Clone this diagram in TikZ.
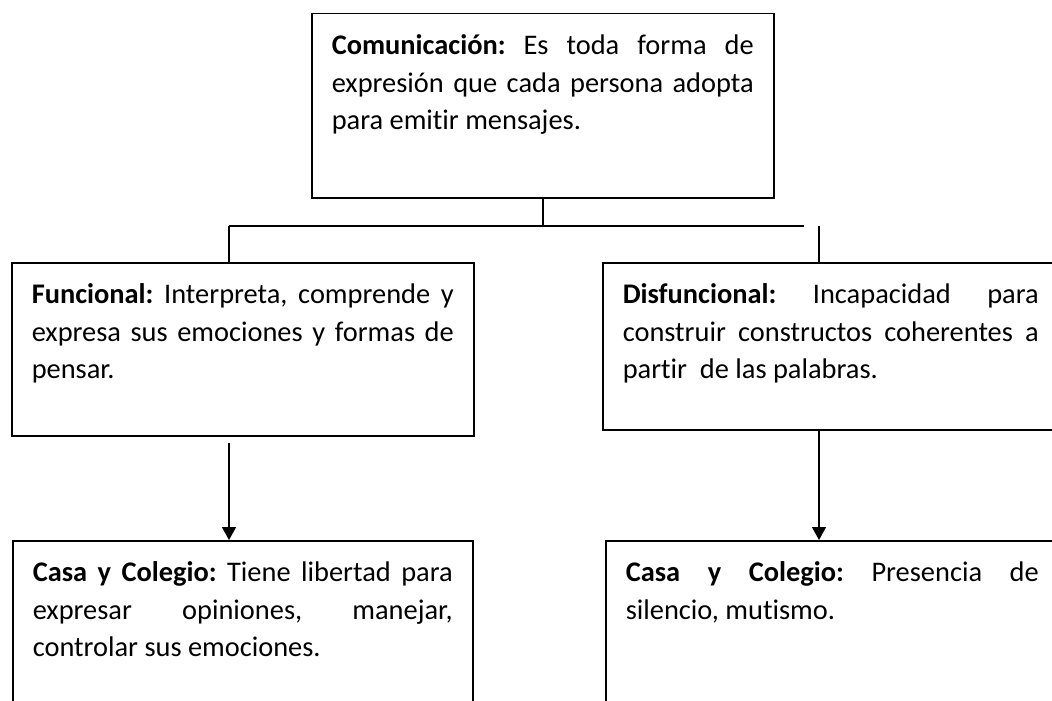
\documentclass[tikz,border=0pt]{standalone}
\usepackage{fontspec}
\setmainfont{Carlito}[Ligatures=NoCommon]
\usetikzlibrary{arrows.meta}
\tolerance=10000
\hyphenpenalty=10000
\frenchspacing
\tikzstyle{arrow}     = [line width=0.75pt,-{Triangle[width=7pt,length=6.5pt]}]

\begin{document}
\begin{tikzpicture}[
    x=0.5pt, y=-0.5pt,
    box/.style={draw, line width=0.75pt, anchor=north west, align=justify,
      inner xsep=10pt, inner ysep=0pt, text height=20.5pt,
      font=\fontsize{14.2pt}{18.75pt}\selectfont},
    link/.style={line width=0.75pt},
  ]
  \useasboundingbox (0,0) rectangle (1052,700);
  \clip (0,0) rectangle (1052,700);

  \node[box, text width=211pt, text depth=71.5pt] (com) at (311,13) {
    \textbf{Comunicación:} Es toda forma de\linebreak
    expresión que cada persona adopta\linebreak
    para emitir mensajes.
  };
  \node[box, text width=211pt, text depth=66pt] (fun) at (11,262) {
    \textbf{Funcional:} Interpreta, comprende y\linebreak
    expresa sus emociones y formas de\linebreak
    pensar.
  };
  \node[box, text width=208pt, text depth=63pt] (dis) at (602,262) {
    \textbf{Disfuncional:} Incapacidad para\linebreak
    construir constructos coherentes a\linebreak
    partir\ \ de las palabras.
  };
  \node[box, text width=210pt, text depth=69.5pt] (casaA) at (12,540) {
    \textbf{Casa y Colegio:} Tiene libertad para\linebreak
    expresar opiniones, manejar,\linebreak
    controlar sus emociones.
  };
  \node[box, text width=206.5pt, text depth=69.5pt] (casaB) at (605,540) {
    \textbf{Casa y Colegio:} Presencia de\linebreak
    silencio, mutismo.
  };

  % ramas
  \coordinate (hl) at (229,226);
  \coordinate (hr) at (804,226);
  \coordinate (vr) at (819,226);
  \draw[link] (com.south) -- (com.south |- hl);
  \draw[link] (hl) -- (hr);
  \draw[link] (hl) -- (hl |- fun.north);
  \draw[link] (vr) -- (vr |- dis.north);

  \draw[arrow, shorten <=3pt] (hl |- fun.south) -- (hl |- casaA.north);
  \draw[arrow] (vr |- dis.south) -- (vr |- casaB.north);
\end{tikzpicture}
\end{document}
